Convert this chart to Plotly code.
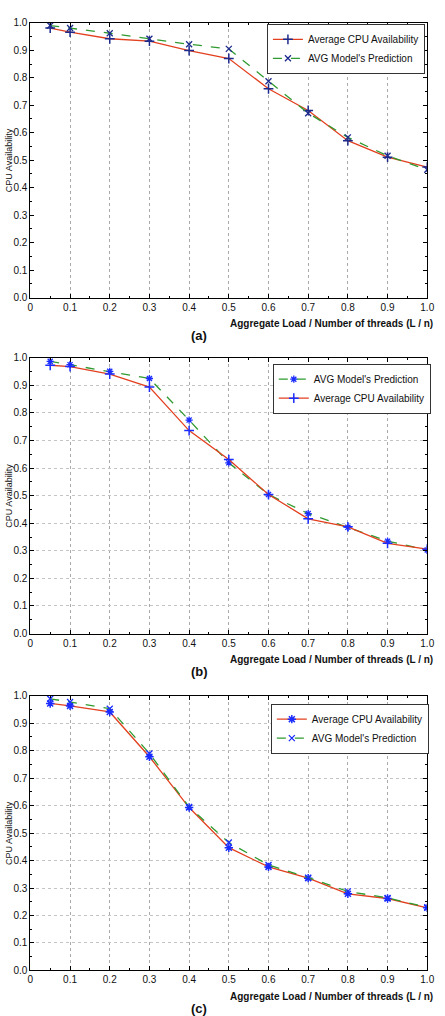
import plotly.graph_objects as go

x_load = [0.05, 0.1, 0.2, 0.3, 0.4, 0.5, 0.6, 0.7, 0.8, 0.9, 1.0]

a_avg = [0.981, 0.966, 0.942, 0.933, 0.899, 0.870, 0.760, 0.681, 0.571, 0.511, 0.475]
a_pred = [0.990, 0.981, 0.962, 0.942, 0.922, 0.905, 0.787, 0.671, 0.583, 0.516, 0.465]

b_avg = [0.973, 0.968, 0.941, 0.894, 0.736, 0.631, 0.504, 0.416, 0.387, 0.327, 0.306]
b_pred = [0.987, 0.975, 0.951, 0.925, 0.774, 0.619, 0.504, 0.435, 0.385, 0.335, 0.303]

c_avg = [0.972, 0.963, 0.941, 0.778, 0.593, 0.447, 0.377, 0.336, 0.279, 0.262, 0.228]
c_pred = [0.989, 0.977, 0.953, 0.790, 0.595, 0.466, 0.384, 0.338, 0.288, 0.264, 0.230]

x_ticks = [0, 0.1, 0.2, 0.3, 0.4, 0.5, 0.6, 0.7, 0.8, 0.9, 1.0]
x_tick_text = ["0", "0.1", "0.2", "0.3", "0.4", "0.5", "0.6", "0.7", "0.8", "0.9", "1.0"]
y_ticks = [0, 0.1, 0.2, 0.3, 0.4, 0.5, 0.6, 0.7, 0.8, 0.9, 1.0]
y_tick_text = ["0.0", "0.1", "0.2", "0.3", "0.4", "0.5", "0.6", "0.7", "0.8", "0.9", "1.0"]

name_avg = "Average CPU Availability"
name_pred = "AVG Model's Prediction"
panel_labels = ["(a)", "(b)", "(c)"]
x_title = "Aggregate Load / Number of threads (L / n)"
y_title = "CPU Availability"

W, H = 445, 1016
RED = "#e2401f"
GREEN = "#2f9a2f"
FONT = "Liberation Sans, Arial, sans-serif"

# pixel layout of each panel: (top, bottom) of the plot area
panels_px = [(17, 295), (356, 635), (698, 976)]
x_px = (28, 434)

fig = go.Figure()

def py(p):
    return 1 - p / H

specs = [
    dict(avg=a_avg, pred=a_pred, mcol="#1c2a8c", order="avg", avg_sym="cross-thin-open", pred_sym="x-thin-open"),
    dict(avg=b_avg, pred=b_pred, mcol="#1a2cff", order="pred", avg_sym="cross-thin-open", pred_sym="asterisk-open"),
    dict(avg=c_avg, pred=c_pred, mcol="#1a2cff", order="avg", avg_sym="asterisk-open", pred_sym="x-thin-open"),
]
legend_pos = [(270, 18), (276, 362), (274, 706)]

for i, s in enumerate(specs):
    k = "" if i == 0 else str(i + 1)
    leg = "legend" if i == 0 else "legend" + str(i + 1)
    tr_avg = go.Scatter(
        x=x_load, y=s["avg"], name=name_avg, mode="lines+markers",
        line=dict(color=RED, width=1.3),
        marker=dict(symbol=s["avg_sym"], size=7, color=s["mcol"], line=dict(color=s["mcol"], width=1.5)),
        xaxis="x" + k, yaxis="y" + k, legend=leg,
    )
    tr_pred = go.Scatter(
        x=x_load, y=s["pred"], name=name_pred, mode="lines+markers",
        line=dict(color=GREEN, width=1.3, dash="dash"),
        marker=dict(symbol=s["pred_sym"], size=6, color=s["mcol"], line=dict(color=s["mcol"], width=1.3)),
        xaxis="x" + k, yaxis="y" + k, legend=leg,
    )
    if s["order"] == "avg":
        fig.add_trace(tr_avg); fig.add_trace(tr_pred)
    else:
        fig.add_trace(tr_pred); fig.add_trace(tr_avg)

    top, bot = panels_px[i]
    axis_common = dict(
        showline=True, linecolor="black", linewidth=1, mirror="ticks",
        ticks="inside", ticklen=4, tickcolor="black",
        tickfont=dict(family=FONT, size=10, color="#111"),
        zeroline=False,
    )
    fig.update_layout(**{
        "xaxis" + k: dict(
            domain=[x_px[0] / W, x_px[1] / W], anchor="y" + k,
            range=[0, 1.0], tickvals=x_ticks, ticktext=x_tick_text,
            showgrid=True, gridcolor="#aaa", griddash="dot", gridwidth=1,
            minor=dict(dtick=0.05, tick0=0, ticks="inside", ticklen=2, showgrid=False),
            **axis_common,
        ),
        "yaxis" + k: dict(
            domain=[py(bot), py(top)], anchor="x" + k,
            range=[0, 1.0], tickvals=y_ticks, ticktext=y_tick_text,
            showgrid=(i > 0), gridcolor="#c4c4c4", griddash="dot", gridwidth=1,
            minor=dict(dtick=0.05, tick0=0, ticks="inside", ticklen=2, showgrid=False),
            **axis_common,
        ),
        leg: dict(
            x=legend_pos[i][0] / W, y=py(legend_pos[i][1]), xanchor="left", yanchor="top",
            bgcolor="white", bordercolor="#333", borderwidth=1,
            font=dict(family=FONT, size=10, color="#111"),
            tracegroupgap=0, itemwidth=30,
        ),
    })
    fig.add_annotation(
        x=442 / W, y=py(bot + 26), xref="paper", yref="paper", xanchor="right", yanchor="middle",
        text=x_title, showarrow=False, font=dict(family=FONT, size=10, color="#111", weight="bold"),
    )
    fig.add_annotation(
        x=201 / W, y=py(bot + 38), xref="paper", yref="paper", xanchor="center", yanchor="middle",
        text=panel_labels[i], showarrow=False, font=dict(family=FONT, size=13, color="#111", weight="bold"),
    )
    fig.add_annotation(
        x=0, y=py((top + bot) / 2), xref="paper", yref="paper", xanchor="left", yanchor="middle",
        text=y_title, textangle=-90, showarrow=False, borderpad=0,
        font=dict(family=FONT, size=9, color="#111"),
    )

fig.update_layout(
    width=W, height=H, margin=dict(l=0, r=0, t=0, b=0),
    plot_bgcolor="white", paper_bgcolor="white", showlegend=True,
)

fig.write_html("out.html")
